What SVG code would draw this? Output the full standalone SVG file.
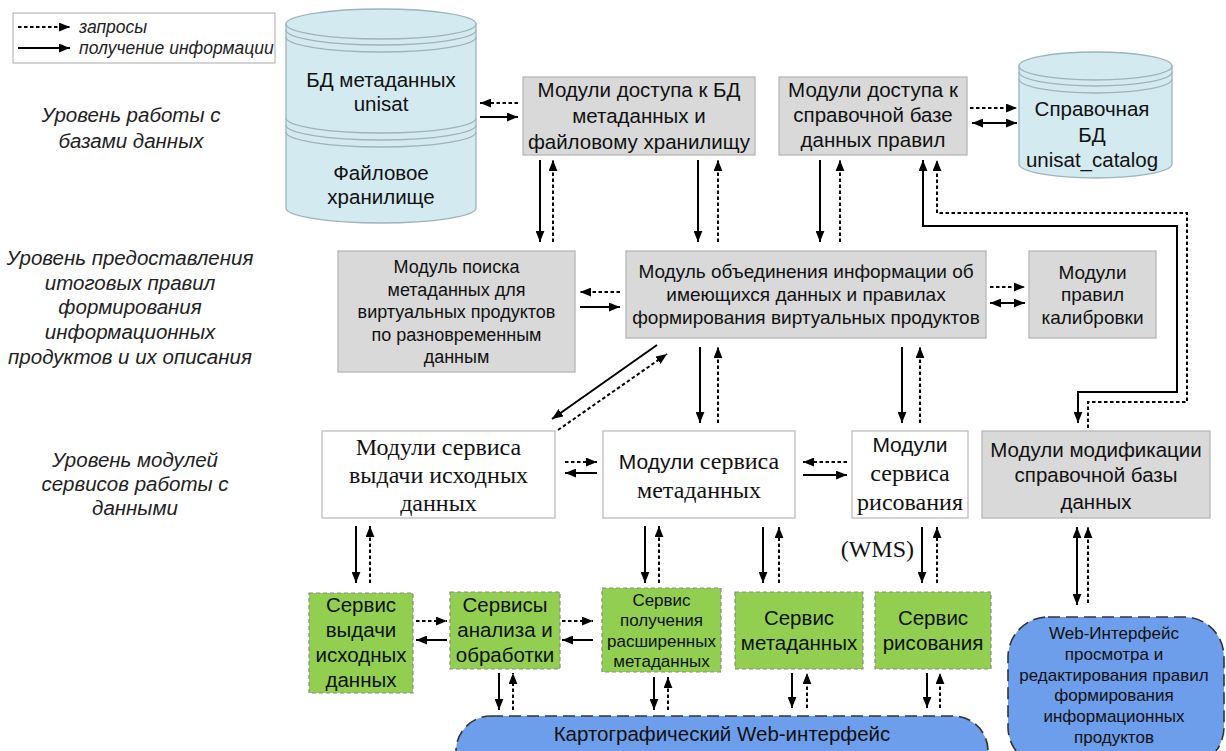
<svg xmlns="http://www.w3.org/2000/svg" width="1226" height="751" viewBox="0 0 1226 751">
<defs>
<style>
.sans{font-family:"Liberation Sans",Arial,sans-serif;fill:#111;text-anchor:middle}
.serif{font-family:"Liberation Serif","Times New Roman",serif;fill:#111;text-anchor:middle}
.lvl{font-family:"Liberation Sans",Arial,sans-serif;font-style:italic;font-size:20.5px;fill:#222;text-anchor:middle}
.leg{font-family:"Liberation Sans",Arial,sans-serif;font-style:italic;font-size:17.5px;fill:#222}
.gray{fill:#d9d9d9;stroke:#b7b7b7;stroke-width:1.3}
.white{fill:#fff;stroke:#bdbdbd;stroke-width:1.3}
.green{fill:#92cf50;stroke:#8a8a8a;stroke-width:1.2;stroke-dasharray:4 3}
.blue{fill:#6d9eeb;stroke:#333;stroke-width:1.6;stroke-dasharray:12 6}
.cyl{fill:#d3eaf0;stroke:#9fb3ba;stroke-width:1.3}
.cl{fill:none;stroke:#9fb3ba;stroke-width:1.3}
.s{fill:none;stroke:#000;stroke-width:2;marker-end:url(#ah)}
.d{fill:none;stroke:#000;stroke-width:2;stroke-dasharray:3.5 2.5;marker-end:url(#ah)}
.b{fill:none;stroke:#000;stroke-width:2;marker-end:url(#ah);marker-start:url(#ahs)}
</style>
<marker id="ah" viewBox="0 0 10 8" refX="10" refY="4" markerWidth="11" markerHeight="9" markerUnits="userSpaceOnUse" orient="auto"><path d="M0,0 L10,4 L0,8 z" fill="#000"/></marker>
<marker id="ahs" viewBox="0 0 10 8" refX="10" refY="4" markerWidth="11" markerHeight="9" markerUnits="userSpaceOnUse" orient="auto-start-reverse"><path d="M0,0 L10,4 L0,8 z" fill="#000"/></marker>
</defs>
<rect width="1226" height="751" fill="#fff"/>

<g id="legend">
<rect x="13" y="13" width="262" height="50" fill="#fff" stroke="#aaa" stroke-width="1"/>
<line x1="18" y1="27" x2="70" y2="27" class="d"/>
<line x1="18" y1="48" x2="70" y2="48" class="s"/>
<text x="79" y="33" class="leg">запросы</text>
<text x="79" y="54" class="leg">получение информации</text>
</g>

<g id="levels">
<text class="lvl" x="131" y="122">Уровень работы с</text>
<text class="lvl" x="131" y="148">базами данных</text>
<text class="lvl" x="130" y="265">Уровень предоставления</text>
<text class="lvl" x="130" y="290">итоговых правил</text>
<text class="lvl" x="130" y="314">формирования</text>
<text class="lvl" x="130" y="339">информационных</text>
<text class="lvl" x="130" y="364">продуктов и их описания</text>
<text class="lvl" x="135" y="467">Уровень модулей</text>
<text class="lvl" x="135" y="491">сервисов работы с</text>
<text class="lvl" x="135" y="515">данными</text>
</g>

<g id="db-unisat">
<path class="cyl" d="M286,24 L286,208 A95,15 0 0 0 476,208 L476,24 Z"/>
<ellipse class="cyl" cx="381" cy="24" rx="95" ry="15"/>
<path class="cl" d="M286,30 A95,15 0 0 0 476,30 M286,37 A95,15 0 0 0 476,37 M286,118 A95,15 0 0 0 476,118 M286,125 A95,15 0 0 0 476,125 M286,132 A95,15 0 0 0 476,132"/>
<text class="sans" font-size="20.5" x="381" y="87">БД метаданных</text>
<text class="sans" font-size="20.5" x="381" y="111">unisat</text>
<text class="sans" font-size="20.5" x="381" y="180">Файловое</text>
<text class="sans" font-size="20.5" x="381" y="204">хранилище</text>
</g>

<g id="db-catalog">
<path class="cyl" d="M1019,66 L1019,164 A76.5,14 0 0 0 1172,164 L1172,66 Z"/>
<ellipse class="cyl" cx="1095.5" cy="66" rx="76.5" ry="14"/>
<path class="cl" d="M1019,72 A76.5,14 0 0 0 1172,72 M1019,79 A76.5,14 0 0 0 1172,79"/>
<text class="sans" font-size="20.5" x="1092" y="116">Справочная</text>
<text class="sans" font-size="20.5" x="1092" y="142">БД</text>
<text class="sans" font-size="20.5" x="1092" y="167">unisat_catalog</text>
</g>

<g id="access-meta">
<rect class="gray" x="523" y="77" width="232" height="78"/>
<text class="sans" font-size="20.5" x="639" y="97">Модули доступа к БД</text>
<text class="sans" font-size="20.5" x="639" y="123">метаданных и</text>
<text class="sans" font-size="20.5" x="639" y="149">файловому хранилищу</text>
</g>

<g id="access-rules">
<rect class="gray" x="779" y="77" width="188" height="78"/>
<text class="sans" font-size="20.5" x="873" y="97">Модули доступа к</text>
<text class="sans" font-size="20.5" x="873" y="122">справочной базе</text>
<text class="sans" font-size="20.5" x="873" y="147">данных правил</text>
</g>

<g id="search">
<rect class="gray" x="338" y="251" width="237" height="121"/>
<text class="sans" font-size="18" x="456.5" y="273">Модуль поиска</text>
<text class="sans" font-size="18" x="456.5" y="296">метаданных для</text>
<text class="sans" font-size="18" x="456.5" y="318">виртуальных продуктов</text>
<text class="sans" font-size="18" x="456.5" y="341">по разновременным</text>
<text class="sans" font-size="18" x="456.5" y="363">данным</text>
</g>

<g id="merge">
<rect class="gray" x="626" y="251" width="360" height="87"/>
<text class="sans" font-size="19" x="806" y="278">Модуль объединения информации об</text>
<text class="sans" font-size="19" x="806" y="301">имеющихся данных и правилах</text>
<text class="sans" font-size="19" x="806" y="324">формирования виртуальных продуктов</text>
</g>

<g id="calib">
<rect class="gray" x="1029" y="251" width="127" height="87"/>
<text class="sans" font-size="19" x="1092.5" y="279">Модули</text>
<text class="sans" font-size="19" x="1092.5" y="301">правил</text>
<text class="sans" font-size="19" x="1092.5" y="324">калибровки</text>
</g>

<g id="svc-source">
<rect class="white" x="322" y="431" width="233" height="87"/>
<text class="serif" font-size="24" x="438.5" y="455">Модули сервиса</text>
<text class="serif" font-size="24" x="438.5" y="483">выдачи исходных</text>
<text class="serif" font-size="24" x="438.5" y="511">данных</text>
</g>

<g id="svc-meta">
<rect class="white" x="603" y="431" width="192" height="87"/>
<text class="sans" font-size="21" x="699" y="469">Модули <tspan font-family="Liberation Serif, Times New Roman, serif" font-size="24">сервиса</tspan></text>
<text class="serif" font-size="24" x="699" y="498">метаданных</text>
</g>

<g id="svc-draw">
<rect class="white" x="852" y="431" width="116" height="87"/>
<text class="sans" font-size="21" x="910" y="452">Модули</text>
<text class="serif" font-size="24" x="910" y="481">сервиса</text>
<text class="serif" font-size="24" x="910" y="510">рисования</text>
</g>

<g id="modify">
<rect class="gray" x="982" y="431" width="228" height="87"/>
<text class="sans" font-size="20.5" x="1096" y="457">Модули модификации</text>
<text class="sans" font-size="20.5" x="1096" y="482">справочной базы</text>
<text class="sans" font-size="20.5" x="1096" y="509">данных</text>
</g>

<g id="g-source">
<rect class="green" x="309" y="593" width="104" height="100"/>
<text class="sans" font-size="20.5" x="361" y="612">Сервис</text>
<text class="sans" font-size="20.5" x="361" y="637">выдачи</text>
<text class="sans" font-size="20.5" x="361" y="662">исходных</text>
<text class="sans" font-size="20.5" x="361" y="687">данных</text>
</g>

<g id="g-analysis">
<rect class="green" x="450" y="592" width="110" height="77"/>
<text class="sans" font-size="20.5" x="505" y="612">Сервисы</text>
<text class="sans" font-size="20.5" x="505" y="637">анализа и</text>
<text class="sans" font-size="20.5" x="505" y="662">обработки</text>
</g>

<g id="g-extmeta">
<rect class="green" x="602" y="588" width="119" height="84"/>
<text class="sans" font-size="17" x="661.5" y="606">Сервис</text>
<text class="sans" font-size="17" x="661.5" y="626">получения</text>
<text class="sans" font-size="17" x="661.5" y="647">расширенных</text>
<text class="sans" font-size="17" x="661.5" y="667">метаданных</text>
</g>

<g id="g-meta">
<rect class="green" x="735" y="592" width="128" height="77"/>
<text class="sans" font-size="20.5" x="799" y="625">Сервис</text>
<text class="sans" font-size="20.5" x="799" y="650">метаданных</text>
</g>

<g id="g-draw">
<rect class="green" x="875" y="592" width="116" height="77"/>
<text class="sans" font-size="20.5" x="933" y="625">Сервис</text>
<text class="sans" font-size="20.5" x="933" y="650">рисования</text>
</g>

<g id="web-map">
<rect class="blue" x="456" y="716" width="532" height="70" rx="35"/>
<text class="sans" font-size="20.5" x="722" y="741">Картографический Web-интерфейс</text>
</g>

<g id="web-rules">
<rect class="blue" x="1008" y="617" width="216" height="150" rx="40"/>
<text class="sans" font-size="17" x="1114" y="639">Web-Интерфейс</text>
<text class="sans" font-size="17" x="1114" y="660">просмотра и</text>
<text class="sans" font-size="17" x="1114" y="681">редактирования правил</text>
<text class="sans" font-size="17" x="1114" y="701">формирования</text>
<text class="sans" font-size="17" x="1114" y="722">информационных</text>
<text class="sans" font-size="17" x="1114" y="743">продуктов</text>
</g>

<text id="wms" class="serif" font-size="24" x="914" y="557" style="text-anchor:end">(WMS)</text>

<g id="connectors">
<line class="d" x1="518" y1="103" x2="480" y2="103"/>
<line class="s" x1="480" y1="117" x2="518" y2="117"/>
<line class="d" x1="970" y1="108" x2="1017" y2="108"/>
<line class="b" x1="972" y1="123" x2="1017" y2="123"/>
<line class="s" x1="540" y1="160" x2="540" y2="242"/>
<line class="d" x1="553" y1="242" x2="553" y2="160"/>
<line class="s" x1="698" y1="160" x2="698" y2="242"/>
<line class="d" x1="718" y1="242" x2="718" y2="160"/>
<line class="s" x1="820" y1="160" x2="820" y2="242"/>
<line class="d" x1="840" y1="242" x2="840" y2="160"/>
<path class="b" d="M923,160 L923,226 L1177,226 L1177,392 L1078,392 L1078,423"/>
<path class="d" d="M1088,428 L1088,402 L1187,402 L1187,213 L937,213 L937,160"/>
<line class="d" x1="620" y1="292" x2="580" y2="292"/>
<line class="s" x1="580" y1="307" x2="620" y2="307"/>
<line class="d" x1="990" y1="287" x2="1025" y2="287"/>
<line class="b" x1="990" y1="303" x2="1025" y2="303"/>
<line class="s" x1="657" y1="345" x2="552" y2="419"/>
<line class="d" x1="558" y1="430" x2="667" y2="354"/>
<line class="s" x1="700" y1="347" x2="700" y2="423"/>
<line class="d" x1="718" y1="423" x2="718" y2="347"/>
<line class="s" x1="902" y1="347" x2="902" y2="423"/>
<line class="d" x1="920" y1="423" x2="920" y2="347"/>
<line class="d" x1="565" y1="462" x2="597" y2="462"/>
<line class="s" x1="597" y1="473" x2="565" y2="473"/>
<line class="d" x1="847" y1="462" x2="803" y2="462"/>
<line class="s" x1="803" y1="475" x2="847" y2="475"/>
<line class="s" x1="356" y1="526" x2="356" y2="583"/>
<line class="d" x1="370" y1="583" x2="370" y2="526"/>
<line class="s" x1="645" y1="526" x2="645" y2="583"/>
<line class="d" x1="659" y1="583" x2="659" y2="526"/>
<line class="s" x1="763" y1="527" x2="763" y2="583"/>
<line class="d" x1="779" y1="583" x2="779" y2="527"/>
<line class="s" x1="922" y1="527" x2="922" y2="583"/>
<line class="d" x1="937" y1="583" x2="937" y2="527"/>
<line class="b" x1="1077" y1="527" x2="1077" y2="605"/>
<line class="d" x1="1088" y1="603" x2="1088" y2="527"/>
<line class="d" x1="416" y1="621" x2="447" y2="621"/>
<line class="s" x1="447" y1="640" x2="416" y2="640"/>
<line class="d" x1="562" y1="621" x2="593" y2="621"/>
<line class="s" x1="593" y1="640" x2="562" y2="640"/>
<line class="s" x1="499" y1="673" x2="499" y2="710"/>
<line class="d" x1="513" y1="710" x2="513" y2="673"/>
<line class="s" x1="654" y1="677" x2="654" y2="710"/>
<line class="d" x1="668" y1="710" x2="668" y2="677"/>
<line class="s" x1="792" y1="673" x2="792" y2="708"/>
<line class="d" x1="807" y1="708" x2="807" y2="673"/>
<line class="s" x1="927" y1="673" x2="927" y2="708"/>
<line class="d" x1="940" y1="708" x2="940" y2="673"/>
</g>
</svg>
